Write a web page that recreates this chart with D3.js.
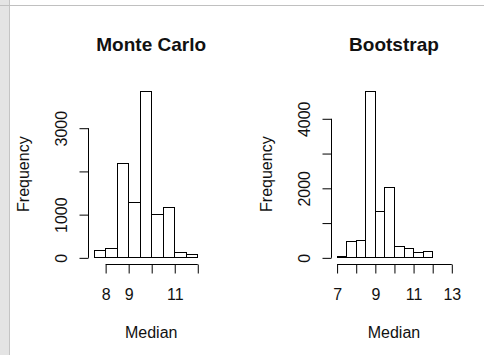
<!DOCTYPE html>
<html>
<head>
<meta charset="utf-8">
<script src="https://cdn.jsdelivr.net/npm/d3@7"></script>
<style>
  html, body { margin: 0; padding: 0; background: #fff; }
  svg { display: block; }
  text { font-family: "Liberation Sans", Arial, sans-serif; fill: #111; }
</style>
</head>
<body>
<svg id="chart" width="484" height="355"></svg>
<script>
// ---- data ----
const mcBreaks = [7.5, 8, 8.5, 9, 9.5, 10, 10.5, 11, 11.5, 12, 12.5];
const mcCounts = [162, 208, 2176, 1273, 3850, 995, 1157, 116, 70, 0];
const mcXTicks = [8, 9, 10, 11, 12];
const mcXLabels = ["8", "9", "", "11", ""];
const mcYTicks = [0, 1000, 2000, 3000];
const mcYLabels = ["0", "1000", "", "3000"];

const bsBreaks = [7, 7.5, 8, 8.5, 9, 9.5, 10, 10.5, 11, 11.5, 12, 12.5, 13];
const bsCounts = [30, 460, 489, 4786, 1324, 2023, 325, 259, 144, 173, 0, 0];
const bsXTicks = [7, 8, 9, 10, 11, 12, 13];
const bsXLabels = ["7", "", "9", "", "11", "", "13"];
const bsYTicks = [0, 1000, 2000, 3000, 4000];
const bsYLabels = ["0", "", "2000", "", "4000"];

const titles = ["Monte Carlo", "Bootstrap"];
const xLabel = "Median";
const yLabel = "Frequency";

// ---- drawing ----
const svg = d3.select("#chart");

// window chrome remnants
svg.append("rect").attr("x", 0).attr("y", 0).attr("width", 9).attr("height", 355).attr("fill", "#e4e4e4");
svg.append("line").attr("x1", 9.5).attr("x2", 9.5).attr("y1", 0).attr("y2", 355).attr("stroke", "#c4c4c4");
svg.append("line").attr("x1", 0).attr("x2", 484).attr("y1", 5.5).attr("y2", 5.5).attr("stroke", "#c0c0c0");

function panel(cfg) {
  const ext = (a, b) => { const d = (b - a) * 0.04; return [a - d, b + d]; };
  const xDom = ext(cfg.breaks[0], cfg.breaks[cfg.breaks.length - 1]);
  const yMax = d3.max(cfg.counts);
  const yDom = ext(0, yMax);
  const x = d3.scaleLinear().domain(xDom).range([cfg.left, cfg.right]);
  const y = d3.scaleLinear().domain(yDom).range([cfg.bottom, cfg.top]);
  const g = svg.append("g");

  // bars
  const bins = cfg.counts.map((c, i) => ({ x0: cfg.breaks[i], x1: cfg.breaks[i + 1], c }));
  g.selectAll("rect.bar").data(bins).join("rect")
    .attr("class", "bar")
    .attr("x", d => Math.round(x(d.x0)) + 0.5)
    .attr("width", d => Math.round(x(d.x1)) - Math.round(x(d.x0)))
    .attr("y", d => Math.round(y(d.c)) + 0.5)
    .attr("height", d => Math.max(0, Math.round(y(0)) - Math.round(y(d.c))))
    .attr("fill", "#fff").attr("stroke", "#000").attr("stroke-width", 1);

  // x axis
  const xa = g.append("g").attr("transform", `translate(0.5,${Math.round(cfg.bottom) + 0.5})`)
    .call(d3.axisBottom(x).tickValues(cfg.xTicks).tickSize(9).tickSizeOuter(0)
      .tickFormat((d, i) => cfg.xLabels[i]));
  xa.select(".domain").remove();
  xa.selectAll("line").attr("stroke", "#000");
  xa.append("line").attr("x1", x(cfg.xTicks[0])).attr("x2", x(cfg.xTicks[cfg.xTicks.length - 1]))
    .attr("y1", 0).attr("y2", 0).attr("stroke", "#000");
  xa.selectAll("text").attr("y", 35).attr("dy", null).attr("font-size", 16)
    .attr("font-family", "Liberation Sans, Arial, sans-serif").attr("fill", "#111");

  // y axis
  const ya = g.append("g").attr("transform", `translate(${Math.round(cfg.left) - 0.5},0.5)`)
    .call(d3.axisLeft(y).tickValues(cfg.yTicks).tickSize(9).tickSizeOuter(0)
      .tickFormat((d, i) => cfg.yLabels[i]));
  ya.select(".domain").remove();
  ya.selectAll("line").attr("stroke", "#000");
  ya.append("line").attr("x1", 0).attr("x2", 0)
    .attr("y1", y(cfg.yTicks[0])).attr("y2", y(cfg.yTicks[cfg.yTicks.length - 1])).attr("stroke", "#000");
  ya.selectAll("text").attr("x", null).attr("dy", null).attr("y", -22)
    .attr("transform", "rotate(-90)").attr("text-anchor", "middle").attr("font-size", 16)
    .attr("font-family", "Liberation Sans, Arial, sans-serif").attr("fill", "#111");

  const cx = (cfg.left + cfg.right) / 2;
  const cy = (cfg.top + cfg.bottom) / 2;
  g.append("text").attr("x", cx).attr("y", 51).attr("text-anchor", "middle")
    .attr("font-size", 19).attr("font-weight", "bold").attr("fill", "#000").text(cfg.title);
  g.append("text").attr("x", cx).attr("y", 338).attr("text-anchor", "middle")
    .attr("font-size", 16).text(xLabel);
  g.append("text").attr("transform", `translate(${cfg.left - 60},${cy}) rotate(-90)`)
    .attr("text-anchor", "middle").attr("font-size", 16).text(yLabel);
}

panel({ breaks: mcBreaks, counts: mcCounts, xTicks: mcXTicks, xLabels: mcXLabels,
  yTicks: mcYTicks, yLabels: mcYLabels, title: titles[0],
  left: 89, right: 213.4, top: 84.3, bottom: 264 });
panel({ breaks: bsBreaks, counts: bsCounts, xTicks: bsXTicks, xLabels: bsXLabels,
  yTicks: bsYTicks, yLabels: bsYLabels, title: titles[1],
  left: 332, right: 455.9, top: 84.3, bottom: 264 });
</script>
</body>
</html>
